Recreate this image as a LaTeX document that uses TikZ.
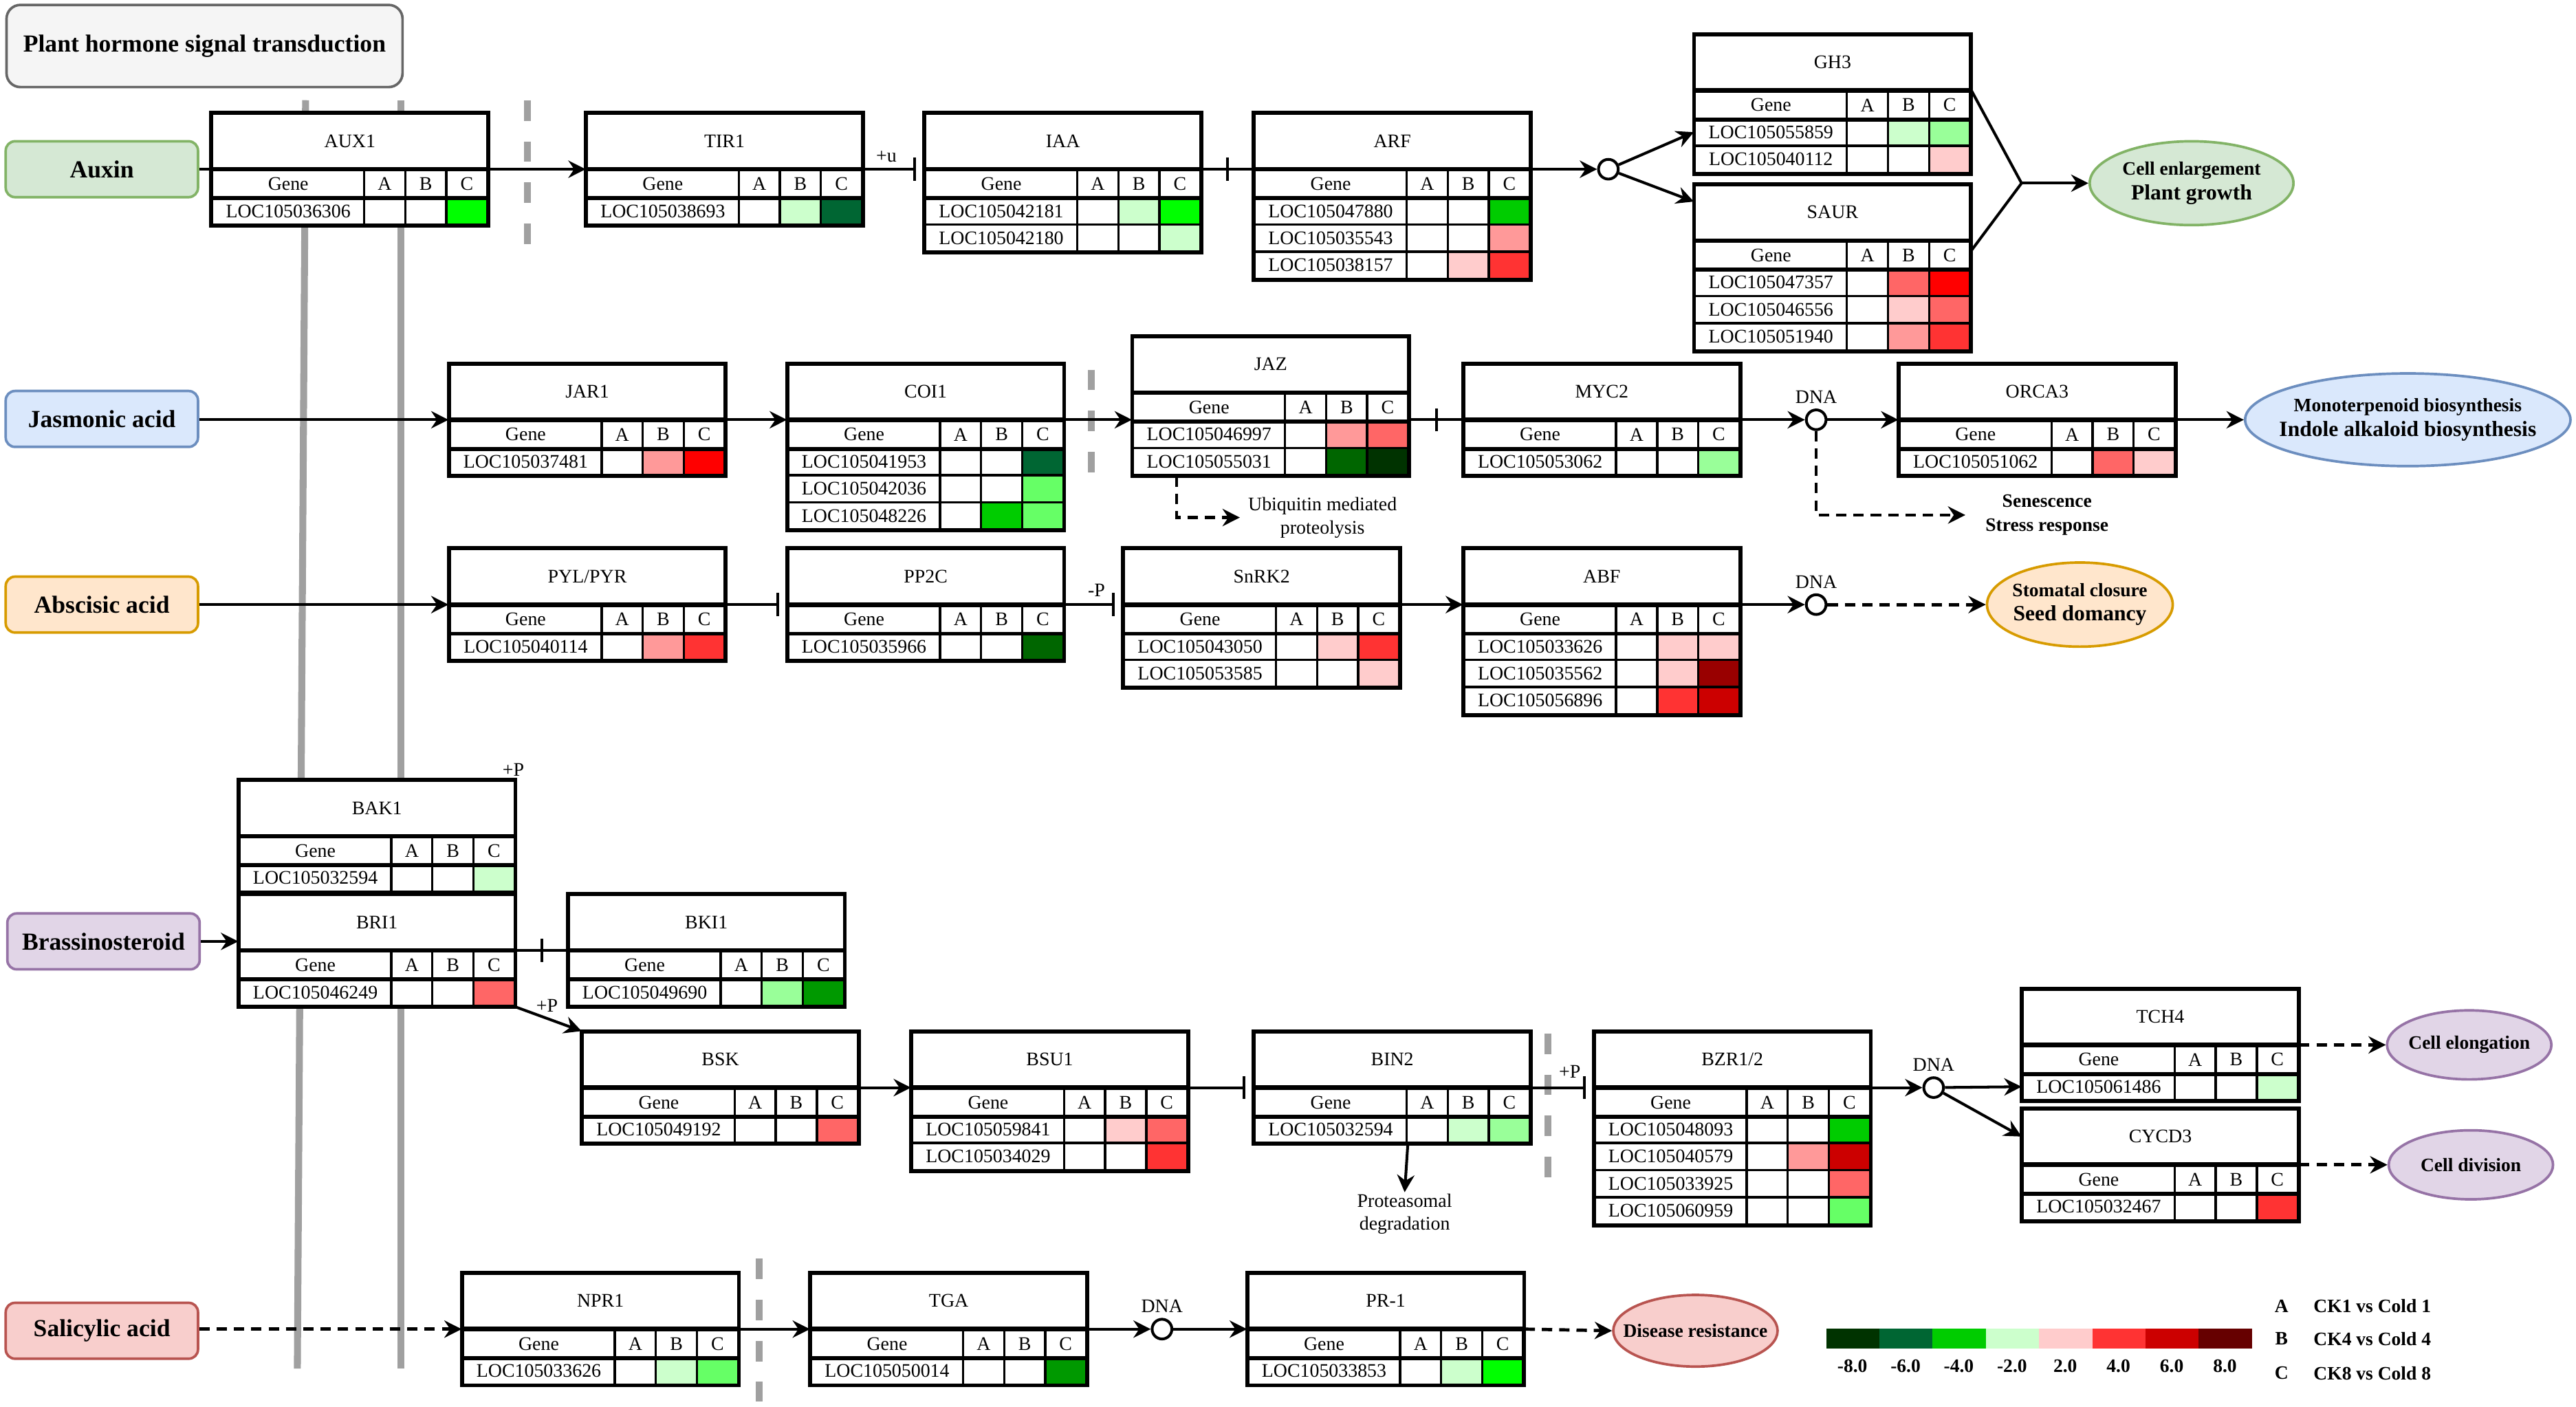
\documentclass[tikz,border=0pt]{standalone}
\usepackage{fontspec}
\setmainfont{Liberation Serif}
\usetikzlibrary{arrows.meta, positioning, shapes.geometric, decorations.markings}

% heat map colours
\definecolor{gr1}{HTML}{003300}
\definecolor{gr2}{HTML}{006633}
\definecolor{gr3}{HTML}{006600}
\definecolor{gr4}{HTML}{009900}
\definecolor{gr5}{HTML}{00CC00}
\definecolor{gr6}{HTML}{00FF00}
\definecolor{gr7}{HTML}{66FF66}
\definecolor{gr8}{HTML}{99FF99}
\definecolor{gr9}{HTML}{CCFFCC}
\definecolor{rd9}{HTML}{FFCCCC}
\definecolor{rd8}{HTML}{FF9999}
\definecolor{rd7}{HTML}{FF6666}
\definecolor{rd6}{HTML}{FF3333}
\definecolor{rd5}{HTML}{FF0000}
\definecolor{rd4}{HTML}{CC0000}
\definecolor{rd3}{HTML}{990000}
\definecolor{rd2}{HTML}{660000}
% hormone colours
\definecolor{auxf}{HTML}{D5E8D4}\definecolor{auxd}{HTML}{82B366}
\definecolor{jaf}{HTML}{DAE8FC}\definecolor{jad}{HTML}{6C8EBF}
\definecolor{abaf}{HTML}{FFE6CC}\definecolor{abad}{HTML}{D79B00}
\definecolor{brf}{HTML}{E1D5E7}\definecolor{brd}{HTML}{9673A6}
\definecolor{saf}{HTML}{F8CECC}\definecolor{sad}{HTML}{B85450}
\definecolor{titf}{HTML}{F5F5F5}\definecolor{titd}{HTML}{666666}
\definecolor{memgray}{HTML}{A0A0A0}

\newcommand{\tabfont}{\fontsize{8.3}{10}\selectfont}
\newcommand{\hormfont}{\fontsize{10.6}{12}\selectfont\bfseries}
\newcommand{\outfont}{\fontsize{8.2}{10.5}\selectfont\bfseries}
\newcommand{\bigout}{\fontsize{9.4}{11}\selectfont}

% gene table: name, left x, y of header line, title, rows gene/B/C
\newcommand{\genetab}[5]{%
  \node[ttl, anchor=south west] (#1) at (#2,#3) {#4};
  \node[cell, minimum width=2.3125cm] (#1-h) at (#2,#3) {Gene};
  \node[cell] (#1-ha) at (#2+92.5,#3) {A};
  \node[cell] (#1-hb) at (#2+117.5,#3) {B};
  \node[cell] (#1-hc) at (#2+142.5,#3) {C};
  \foreach \gname/\cb/\cc [count=\i] in {#5}{
    \node[cell, minimum width=2.3125cm] (#1-\i) at (#2,#3+16.5*\i) {\gname};
    \node[cell] (#1-\i a) at (#2+92.5,#3+16.5*\i) {};
    \node[cell, fill=\cb] (#1-\i b) at (#2+117.5,#3+16.5*\i) {};
    \node[cell, fill=\cc] (#1-\i c) at (#2+142.5,#3+16.5*\i) {};
    \xdef\lastrow{\i}
  }
  \draw[line width=1.5pt] (#1.north west) rectangle (#1-\lastrow c.south east);
  \draw[line width=1.5pt] (#1.south west) -- (#1.south east);
  \draw[line width=1.5pt] (#1-h.south west) -- (#1-hc.south east);
}

\begin{document}
\begin{tikzpicture}[x=0.025cm, y=-0.025cm,
    ttl/.style={draw, line width=1pt, fill=white, minimum width=4.1875cm, minimum height=0.825cm, inner sep=0pt, font=\tabfont},
    cell/.style={draw, line width=1pt, fill=white, minimum width=0.625cm, minimum height=0.4125cm, inner sep=0pt, anchor=north west, font=\tabfont},
    horm/.style={rectangle, rounded corners=4pt, line width=1.1pt, minimum width=2.925cm, minimum height=0.85cm, inner sep=1pt, font=\hormfont},
    outc/.style={ellipse, line width=1.1pt, inner xsep=-0.3cm, inner ysep=0pt, align=center, font=\outfont},
    tabtxt/.style={inner sep=0pt, font=\tabfont},
    dna/.style={circle, draw, line width=1.2pt, fill=white, minimum size=0.3cm, inner sep=0pt},
    conn/.style={line width=1.2pt},
    arr/.style={conn, -{Stealth[length=7.5pt, width=7.5pt, inset=2.5pt]}},
    darr/.style={arr, line width=1.4pt, dash pattern=on 4.5pt off 3pt},
    inh/.style={conn, -{Bar[width=10pt, line width=1.2pt]}, shorten >=3.5pt},
    midbar/.style={postaction={decorate, decoration={markings, mark=at position 0.5 with {\draw[line width=1.2pt] (0,-5pt) -- (0,5pt);}}}},
    mem/.style={line width=3pt, draw=memgray},
    gdash/.style={line width=3pt, draw=memgray, dash pattern=on 8.9pt off 8.9pt}
]
\useasboundingbox (0,0) rectangle (1568,856);
\fill[white] (0,0) rectangle (1568,856);

% membrane and dashed borders
\draw[mem] (186,61) -- (181,833);
\draw[mem] (244,61) -- (244,833);
\draw[gdash] (321,61) -- (321,150);
\draw[gdash] (664.3,225) -- (664.3,288);
\draw[gdash] (942.3,629) -- (942.3,717);
\draw[gdash] (462.3,766) -- (462.3,853);

% hormones
\node[horm, fill=titf, draw=titd, minimum width=6.025cm, minimum height=1.25cm, rounded corners=6pt] (pht) at (124.5,28) {Plant hormone signal transduction};
\node[horm, fill=auxf, draw=auxd] (auxin) at (62,103) {Auxin};
\node[horm, fill=jaf, draw=jad] (jasmo) at (62,255) {Jasmonic acid};
\node[horm, fill=abaf, draw=abad] (absc) at (62,368) {Abscisic acid};
\node[horm, fill=brf, draw=brd] (brass) at (63,573) {Brassinosteroid};
\node[horm, fill=saf, draw=sad] (salic) at (62,810) {Salicylic acid};

% gene tables
\genetab{aux1}{128.5}{103}{AUX1}{LOC105036306/white/gr6}
\genetab{tir1}{356.5}{103}{TIR1}{LOC105038693/gr9/gr2}
\genetab{iaa}{562.5}{103}{IAA}{LOC105042181/gr9/gr6, LOC105042180/white/gr9}
\genetab{arf}{763}{103}{ARF}{LOC105047880/white/gr5, LOC105035543/white/rd8, LOC105038157/rd9/rd6}
\genetab{gh3}{1031}{55}{GH3}{LOC105055859/gr9/gr8, LOC105040112/white/rd9}
\genetab{saur}{1031}{146.5}{SAUR}{LOC105047357/rd7/rd5, LOC105046556/rd9/rd7, LOC105051940/rd8/rd6}
\genetab{jar1}{273}{255.5}{JAR1}{LOC105037481/rd8/rd5}
\genetab{coi1}{479}{255.5}{COI1}{LOC105041953/white/gr2, LOC105042036/white/gr7, LOC105048226/gr5/gr7}
\genetab{jaz}{689}{239}{JAZ}{LOC105046997/rd8/rd7, LOC105055031/gr3/gr1}
\genetab{myc2}{890.5}{255.5}{MYC2}{LOC105053062/white/gr8}
\genetab{orca3}{1155.5}{255.5}{ORCA3}{LOC105051062/rd7/rd9}
\genetab{pyl}{273}{368}{PYL/PYR}{LOC105040114/rd8/rd6}
\genetab{pp2c}{479}{368}{PP2C}{LOC105035966/white/gr3}
\genetab{snrk2}{683.5}{368}{SnRK2}{LOC105043050/rd9/rd6, LOC105053585/white/rd9}
\genetab{abf}{890.5}{368}{ABF}{LOC105033626/rd9/rd9, LOC105035562/rd9/rd3, LOC105056896/rd6/rd4}
\genetab{bak1}{145}{509}{BAK1}{LOC105032594/white/gr9}
\genetab{bri1}{145}{578.5}{BRI1}{LOC105046249/white/rd7}
\genetab{bki1}{345.5}{578.5}{BKI1}{LOC105049690/gr8/gr4}
\genetab{bsk}{354}{662}{BSK}{LOC105049192/white/rd7}
\genetab{bsu1}{554.5}{662}{BSU1}{LOC105059841/rd9/rd7, LOC105034029/white/rd6}
\genetab{bin2}{763}{662}{BIN2}{LOC105032594/gr9/gr8}
\genetab{bzr}{970}{662}{BZR1/2}{LOC105048093/white/gr5, LOC105040579/rd8/rd4, LOC105033925/white/rd7, LOC105060959/white/gr7}
\genetab{tch4}{1230.5}{636}{TCH4}{LOC105061486/white/gr9}
\genetab{cycd3}{1230.5}{709}{CYCD3}{LOC105032467/white/rd6}
\genetab{npr1}{281}{809}{NPR1}{LOC105033626/gr9/gr7}
\genetab{tga}{493}{809}{TGA}{LOC105050014/white/gr4}
\genetab{pr1}{759}{809}{PR-1}{LOC105033853/gr9/gr6}

% DNA binding sites
\node[dna] (dna1) at (979,103) {};
\node[dna] (dna2) at (1105.5,255.5) {};
\node[dna] (dna3) at (1105.5,368) {};
\node[dna] (dna4) at (1177,662) {};
\node[dna] (dna5) at (707.3,809) {};
\node[tabtxt, above=2pt of dna2] (dna2t) {DNA};
\node[tabtxt, above=2pt of dna3] (dna3t) {DNA};
\node[tabtxt, above=2pt of dna4] (dna4t) {DNA};
\node[tabtxt, above=2pt of dna5] (dna5t) {DNA};

% responses
\node[outc, fill=auxf, draw=auxd, minimum width=3.1cm, minimum height=1.275cm] (cellenl) at (1334,111.5) {Cell enlargement\\{\bigout Plant growth}};
\node[outc, fill=jaf, draw=jad, minimum width=4.95cm, minimum height=1.41cm] (mono) at (1465.6,255.5) {Monoterpenoid biosynthesis\\{\bigout Indole alkaloid biosynthesis}};
\node[outc, fill=abaf, draw=abad, minimum width=2.825cm, minimum height=1.28cm] (stoma) at (1266,368) {Stomatal closure\\{\bigout Seed domancy}};
\node[outc, fill=brf, draw=brd, minimum width=2.5cm, minimum height=1.05cm] (celon) at (1503,636) {Cell elongation};
\node[outc, fill=brf, draw=brd, minimum width=2.5cm, minimum height=1.05cm] (celdiv) at (1504,709) {Cell division};
\node[outc, fill=saf, draw=sad, minimum width=2.5cm, minimum height=1.09cm] (disres) at (1032,810) {Disease resistance};
\node[font=\outfont, align=center, inner ysep=0pt, inner xsep=0.3cm] (senes) at (1246,313.5) {Senescence\\Stress response};
\node[tabtxt, align=center, inner xsep=0.12cm] (ubiq) at (805,315) {Ubiquitin mediated\\proteolysis};
\node[tabtxt, align=center, inner sep=0.5pt] (prot) at (855,739) {Proteasomal\\degradation};

% auxin
\draw[conn] (auxin.east) -- (aux1.south west);
\draw[arr] (aux1.south east) -- (tir1.south west);
\draw[inh] (tir1.south east) -- (iaa.south west);
\node[tabtxt] (plusu) at (539.5,95.5) {+u};
\draw[conn, midbar] (iaa.south east) -- (arf.south west);
\draw[arr] (arf.south east) -- (dna1);
\draw[arr] (dna1) -- (gh3-1.west);
\draw[arr] (dna1) -- ([yshift=0.165cm]saur.west);
\coordinate (join1) at (1230.5,111.5);
\draw[conn] (gh3.south east) -- (join1) -- ([yshift=-0.15cm]saur.south east);
\draw[arr] (join1) -- (cellenl.west);

% jasmonic acid
\draw[arr] (jasmo.east |- jar1.south west) -- (jar1.south west);
\draw[arr] (jar1.south east) -- (coi1.south west);
\draw[arr] (coi1.south east) -- (jaz-1.north west);
\draw[darr] ([xshift=0.68cm]jaz-2.south west) |- (ubiq.west);
\draw[conn, midbar] (jaz-1c.north east) -- (myc2.south west);
\draw[arr] (myc2.south east) -- (dna2);
\draw[arr] (dna2) -- (orca3.south west);
\draw[arr] (orca3.south east) -- (mono.west);
\draw[darr] (dna2) |- (senes.west);

% abscisic acid
\draw[arr] (absc.east |- pyl.south west) -- (pyl.south west);
\draw[inh] (pyl.south east) -- (pp2c.south west);
\draw[inh] (pp2c.south east) -- (snrk2.south west);
\node[tabtxt] (minusp) at (667.4,359.3) {-P};
\draw[arr] (snrk2.south east) -- (abf.south west);
\draw[arr] (abf.south east) -- (dna3);
\draw[darr] (dna3) -- (stoma.west);

% brassinosteroid
\node[tabtxt] (plusp1) at (312.5,468.5) {+P};
\draw[arr] (brass.east) -- (brass.east -| bri1.west);
\draw[conn, midbar] (bri1.south east) -- (bki1.south west);
\draw[arr] (bri1-1c.south east) -- (bsk.north west);
\node[tabtxt] (plusp2) at (333,612) {+P};
\draw[arr] (bsk.south east) -- (bsu1.south west);
\draw[inh] (bsu1.south east) -- (bin2.south west);
\draw[arr] (bin2-1.south east) -- (prot.north);
\draw[inh] (bin2.south east) -- (bzr.south west);
\node[tabtxt] (plusp3) at (955.5,652.3) {+P};
\draw[arr] (bzr.south east) -- (dna4);
\draw[arr] (dna4) -- (tch4-1.west);
\draw[arr] (dna4) -- (cycd3.west);
\draw[darr] (tch4.south east) -- (celon.west);
\draw[darr] (cycd3.south east) -- (celdiv.west);

% salicylic acid
\draw[darr] (salic.east |- npr1.south west) -- (npr1.south west);
\draw[arr] (npr1.south east) -- (tga.south west);
\draw[arr] (tga.south east) -- (dna5);
\draw[arr] (dna5) -- (pr1.south west);
\draw[darr] (pr1.south east) -- (disres.west);

% legend
\foreach \col/\val [count=\k] in {gr1/-8.0, gr2/-6.0, gr5/-4.0, gr9/-2.0, rd9/2.0, rd6/4.0, rd4/6.0, rd2/8.0}{
  \node[fill=\col, minimum width=0.81cm, minimum height=0.305cm, inner sep=0pt, anchor=north west] (leg\k) at (1111.3+32.4*\k-32.4,808.2) {};
  \node[font=\outfont, inner sep=0pt] (legv\k) at (1127.5+32.4*\k-32.4,831.6) {\val};
}
\foreach \lt/\txt/\ly in {A/CK1 vs Cold 1/794.9, B/CK4 vs Cold 4/814.9, C/CK8 vs Cold 8/835.8}{
  \node[font=\outfont, inner sep=0pt] (key\lt) at (1388.8,\ly) {\lt};
  \node[font=\outfont, inner sep=0pt, anchor=west] (keyt\lt) at (1408,\ly) {\txt};
}
\end{tikzpicture}
\end{document}
